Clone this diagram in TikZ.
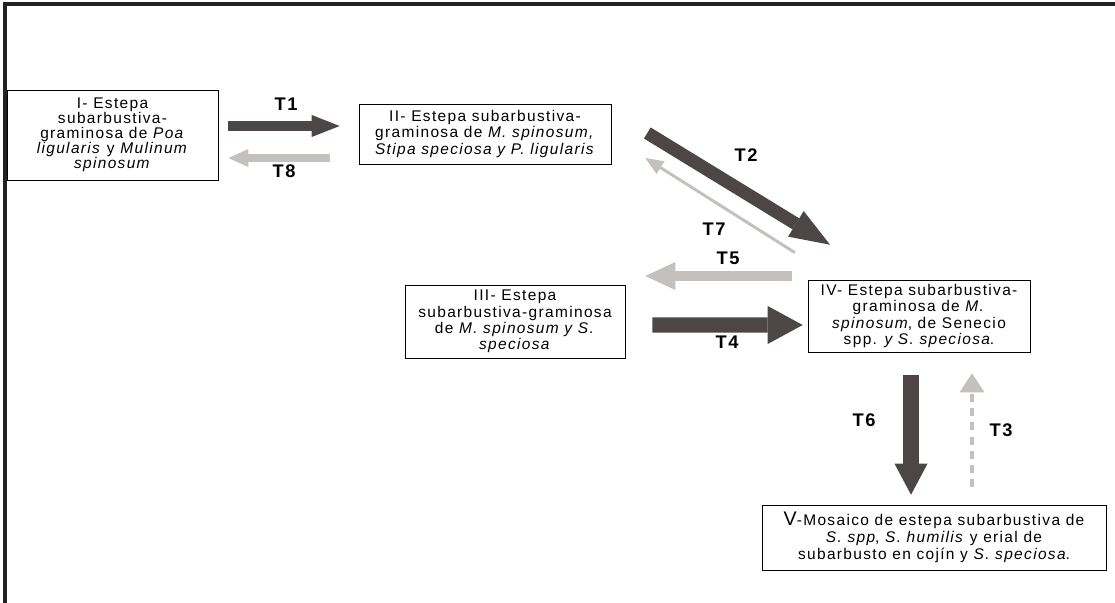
\documentclass[tikz,border=0pt]{standalone}
\usepackage{fontspec}
\setmainfont{Liberation Sans}[LetterSpace=8.7]
\usetikzlibrary{arrows.meta}
\definecolor{darkarr}{RGB}{76,70,70}
\definecolor{lightarr}{RGB}{196,192,189}
\definecolor{framegr}{RGB}{34,34,34}
\begin{document}
\begin{tikzpicture}[
  x=0.025cm, y=-0.025cm,
  statebox/.style={rectangle, draw, thin, inner sep=0pt, align=center, font=\fontsize{11}{11.6}\selectfont},
  tlabel/.style={font=\fontsize{13}{14}\selectfont\bfseries},
  darkarrow/.style={draw=darkarr, line width=#1},
  lightarrow/.style={draw=lightarr, line width=#1}
]
\useasboundingbox (0,0) rectangle (1115,603);

% Frame
\draw[framegr, line width=2.2pt] (5,603) -- (5,4) -- (1115,4);

% State boxes
\node[statebox, font=\fontsize{11}{10.6}\selectfont, minimum width=5.275cm, minimum height=2.25cm] (boxI) at (112.5,135)
  {I- Estepa\\subarbustiva-\\graminosa de \textit{Poa}\\\textit{ligularis} y \textit{Mulinum}\\\textit{spinosum}};
\node[statebox, minimum width=6.3cm, minimum height=1.5cm] (boxII) at (485,134)
  {II- Estepa subarbustiva-\\graminosa de \textit{M. spinosum,}\\\textit{Stipa speciosa y P. ligularis}};
\node[statebox, minimum width=5.5cm, minimum height=1.825cm] (boxIII) at (515,321.5)
  {III- Estepa\\subarbustiva-graminosa\\de \textit{M. spinosum y S.}\\\textit{speciosa}};
\node[statebox, minimum width=5.55cm, minimum height=1.8cm] (boxIV) at (919,316)
  {IV- Estepa subarbustiva-\\graminosa de \textit{M.}\\\textit{spinosum}, de Senecio\\spp. \textit{y S. speciosa}.};
\node[statebox, font=\fontsize{11}{12}\selectfont, minimum width=8.6cm, minimum height=1.625cm] (boxV) at (934,537.5)
  {{\fontsize{14}{12}\selectfont V}-Mosaico de estepa subarbustiva de\\\textit{S. spp}, \textit{S. humilis} y erial de\\subarbusto en cojín y \textit{S. speciosa}.};

% Transitions
\draw[darkarrow=7.1pt, -{Triangle[width=0.55cm, length=0.7cm, line width=0pt]}]
  ([shift={(10,-9)}]boxI.east) -- ([shift={(-19,-8)}]boxII.west);
\draw[lightarrow=5pt, -{Triangle[width=0.45cm, length=0.5cm, line width=0pt]}]
  ([shift={(-29,24)}]boxII.west) -- ([shift={(10,23)}]boxI.east);
\draw[darkarrow=9.2pt, -{Triangle[width=0.75cm, length=1cm, line width=0pt]}]
  ([shift={(36,-1)}]boxII.east) -- ([shift={(-89,-35)}]boxIV.north);
\draw[lightarrow=2.1pt, -{Triangle[width=0.375cm, length=0.45cm, line width=0pt]}]
  ([shift={(-124,-27)}]boxIV.north) -- ([shift={(34,24)}]boxII.east);
\draw[lightarrow=7.8pt, -{Triangle[width=0.7cm, length=0.75cm, line width=0pt]}]
  ([shift={(-16,-40)}]boxIV.west) -- ([shift={(20,-45.5)}]boxIII.east);
\draw[darkarrow=10.7pt, -{Triangle[width=0.95cm, length=0.875cm, line width=0pt]}]
  ([shift={(27,3.5)}]boxIII.east) -- ([shift={(-5,9)}]boxIV.west);
\draw[darkarrow=11.4pt, -{Triangle[width=0.825cm, length=0.775cm, line width=0pt]}]
  ([shift={(-8,23)}]boxIV.south) -- ([shift={(-23,-10)}]boxV.north);
\draw[lightarrow=2.8pt, dash pattern=on 5.7pt off 4.3pt, -{Triangle[width=0.625cm, length=0.475cm, line width=0pt]}]
  ([shift={(38,-18)}]boxV.north) -- ([shift={(53,21)}]boxIV.south);

% Labels
\node[tlabel] (lblT1) at (286,104) {T1};
\node[tlabel] (lblT8) at (284,171) {T8};
\node[tlabel] (lblT2) at (746,155) {T2};
\node[tlabel] (lblT7) at (714,229) {T7};
\node[tlabel] (lblT5) at (728,258) {T5};
\node[tlabel] (lblT4) at (727,342) {T4};
\node[tlabel] (lblT6) at (864,420) {T6};
\node[tlabel] (lblT3) at (1001,430) {T3};

\end{tikzpicture}
\end{document}
